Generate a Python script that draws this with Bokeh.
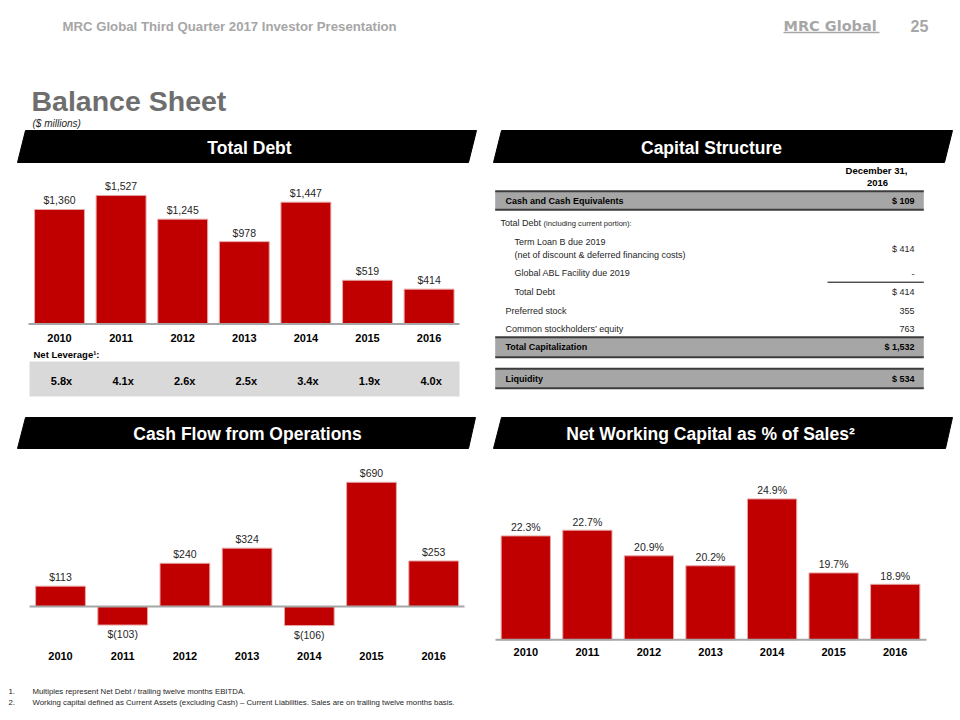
from bokeh.plotting import figure
from bokeh.models import Range1d
from bokeh.core.properties import value
from bokeh.embed import file_html
from bokeh.resources import INLINE

# ---------------- data ----------------
years = [2010, 2011, 2012, 2013, 2014, 2015, 2016]
year_labels = [str(y) for y in years]
total_debt = [1360, 1527, 1245, 978, 1447, 519, 414]
net_leverage = [5.8, 4.1, 2.6, 2.5, 3.4, 1.9, 4.0]
cash_flow_ops = [113, -103, 240, 324, -106, 690, 253]
nwc_pct_sales = [22.3, 22.7, 20.9, 20.2, 24.9, 19.7, 18.9]

cap_labels = ["Cash and Cash Equivalents", "Total Debt",
              "Term Loan B due 2019", "Global ABL Facility due 2019", "Total Debt",
              "Preferred stock", "Common stockholders\u2019 equity",
              "Total Capitalization", "Liquidity"]
cap_values = ["$ 109", "", "$ 414", "-", "$ 414", "355", "763", "$ 1,532", "$ 534"]

footnotes = ["Multiples represent Net Debt / trailing twelve months EBITDA.",
             "Working capital defined as Current Assets (excluding Cash) \u2013 Current Liabilities. Sales are on trailing twelve months basis."]

# ---------------- style ----------------
SANS = "Liberation Sans"
RED = "#c00000"
DARK = "#262626"

W, H = 960, 720
X0, X1, Y0, Y1 = 0, W, 0, H

p = figure(width=W, height=H, x_range=Range1d(X0, X1), y_range=Range1d(Y1, Y0),
           output_backend="svg", toolbar_location=None, min_border=0,
           x_axis_location=None, y_axis_location=None)
p.grid.visible = False
p.outline_line_color = None
p.background_fill_color = "white"
p.border_fill_color = "white"


def txt(x, y, s, size, color=DARK, style="normal", align="left", font=SANS,
        xr="default", yr="default", x_off=0, y_off=0, baseline="middle"):
    if not isinstance(x, list):
        x, y, s = [x], [y], [s]
    p.text(x=x, y=y, text=s, text_font=value(font), text_font_size=f"{size}px",
           text_font_style=style, text_color=color, text_align=align,
           text_baseline=baseline, x_offset=x_off, y_offset=y_off,
           x_range_name=xr, y_range_name=yr)


def chart_ranges(name, c0, step, base, ppu, v0=0.0):
    # c0: page x of first year's centre, step: px per year,
    # base: page y of value v0, ppu: px per value unit
    p.extra_x_ranges[name + "_x"] = Range1d(years[0] + (X0 - c0) / step,
                                            years[0] + (X1 - c0) / step)
    p.extra_y_ranges[name + "_y"] = Range1d(v0 + (base - Y1) / ppu,
                                            v0 + (base - Y0) / ppu)


# ---------------- header ----------------
txt(62, 26, "MRC Global Third Quarter 2017 Investor Presentation", 13.2,
    color="#a6a6a6", style="bold")
txt(783, 25, "MRC Global", 14.5, color="#a6a6a6", style="bold", font="DejaVu Sans")
p.segment(x0=[783], y0=[32], x1=[879], y1=[32], line_color="#a6a6a6", line_width=1.5)
txt(910, 25, "25", 16, color="#a6a6a6", style="bold")
txt(31, 100, "Balance Sheet", 28.5, color="#6e6e6e", style="bold")
txt(32, 123, "($ millions)", 10, color=DARK, style="italic")

# ---------------- banners ----------------
p.patches(xs=[[25, 476, 468, 17], [501, 952, 944, 493],
              [25, 475, 468, 17], [501, 952, 945, 493]],
          ys=[[130, 130, 162, 162], [130, 130, 162, 162],
              [417, 417, 448, 448], [417, 417, 448, 448]],
          fill_color="black", line_color="black")
BANNER = 17.5
txt(249, 147, "Total Debt", BANNER, color="white", style="bold", align="center")
txt(711, 147, "Capital Structure", BANNER, color="white", style="bold", align="center")
txt(247, 433, "Cash Flow from Operations", BANNER, color="white", style="bold",
    align="center")
txt(710, 433, "Net Working Capital as % of Sales\u00b2", BANNER, color="white",
    style="bold", align="center")

bar_kw = dict(fill_color=RED, line_color="#e7a6a6", line_width=1)
LBL = 10.5
YR = 11

# ---------------- Total Debt ----------------
chart_ranges("debt", c0=59.0, step=61.6, base=323.5, ppu=0.0842)
p.vbar(x=years, top=total_debt, bottom=0, width=0.81, x_range_name="debt_x",
       y_range_name="debt_y", **bar_kw)
p.segment(x0=[28], y0=[0], x1=[459], y1=[0], line_color="#a6a6a6", line_width=2,
          y_range_name="debt_y")
txt(years, total_debt, [f"${v:,}" for v in total_debt], LBL, align="center",
    xr="debt_x", yr="debt_y", y_off=-9)
txt(years, [0] * 7, year_labels, YR, color="black", style="bold", align="center",
    xr="debt_x", yr="debt_y", y_off=13.5)
txt(33, 354, "Net Leverage\u00b9:", 9.5, color="black", style="bold")
p.quad(left=[29], right=[459], top=[361], bottom=[396], fill_color="#d9d9d9",
       line_color=None)
txt(years, [380.5] * 7, [f"{v:.1f}x" for v in net_leverage], YR, color="black",
    style="bold", align="center", xr="debt_x", x_off=2)

# ---------------- Capital Structure table ----------------
TL, TR, VR = 494.7, 923.3, 914
TF = 9
txt(876, 170, "December 31,", 9.5, color="black", style="bold", align="center")
txt(877, 182.5, "2016", 9.5, color="black", style="bold", align="center")
for top, bot in [(190.7, 209.3), (336.7, 356.7), (368.3, 387.7)]:
    p.quad(left=[TL], right=[TR], top=[top], bottom=[bot], fill_color="#a6a6a6",
           line_color=None)
    p.segment(x0=[TL, TL], y0=[top, bot], x1=[TR, TR], y1=[top, bot],
              line_color="#3c3c3c", line_width=2)
p.segment(x0=[827], y0=[281.7], x1=[TR], y1=[281.7], line_color="black", line_width=1)

row_x = [505, 500, 514, 514, 514, 505, 505, 505, 505]
row_y = [200.7, 222.3, 241, 272.7, 291.5, 310, 328.3, 346.7, 378.3]
val_y = [200.7, 222.3, 248.3, 273.3, 291.5, 310, 328.3, 346.7, 378.3]
bold_rows = {0, 7, 8}
for i, (lab, val) in enumerate(zip(cap_labels, cap_values)):
    st = "bold" if i in bold_rows else "normal"
    col = "black" if i in bold_rows else DARK
    txt(row_x[i], row_y[i], lab, TF, color=col, style=st)
    if val:
        txt(VR, val_y[i], val, TF, color=col, style=st, align="right")
txt(543, 222.8, "(including current portion):", 7.6, color=DARK)
txt(514, 254.5, "(net of discount & deferred financing costs)", TF, color=DARK)

# ---------------- Cash Flow from Operations ----------------
chart_ranges("cfo", c0=60.0, step=62.2, base=606.0, ppu=0.18)
p.vbar(x=years, top=cash_flow_ops, bottom=0, width=0.80, x_range_name="cfo_x",
       y_range_name="cfo_y", **bar_kw)
p.segment(x0=[29], y0=[0], x1=[464], y1=[0], line_color="#a6a6a6", line_width=2,
          y_range_name="cfo_y")
cfo_lab = [f"${v:,}" if v >= 0 else f"$({-v:,})" for v in cash_flow_ops]
txt(years, cash_flow_ops, cfo_lab, LBL, align="center", xr="cfo_x", yr="cfo_y",
    y_off=[-9 if v >= 0 else 9 for v in cash_flow_ops])
txt(years, [0] * 7, year_labels, YR, color="black", style="bold", align="center",
    xr="cfo_x", yr="cfo_y", y_off=49)

# ---------------- Net Working Capital % of Sales ----------------
NWC_MIN = 15.0
chart_ranges("nwc", c0=525.3, step=61.57, base=639.3, ppu=14.23, v0=NWC_MIN)
p.vbar(x=years, top=nwc_pct_sales, bottom=NWC_MIN, width=0.80, x_range_name="nwc_x",
       y_range_name="nwc_y", **bar_kw)
p.segment(x0=[495], y0=[NWC_MIN], x1=[926], y1=[NWC_MIN], line_color="#a6a6a6",
          line_width=2, y_range_name="nwc_y")
txt(years, nwc_pct_sales, [f"{v:.1f}%" for v in nwc_pct_sales], LBL, align="center",
    xr="nwc_x", yr="nwc_y", y_off=-8.5)
txt(years, [NWC_MIN] * 7, year_labels, YR, color="black", style="bold", align="center",
    xr="nwc_x", yr="nwc_y", y_off=12.5)

# ---------------- footnotes ----------------
txt([8, 8], [690.5, 701.5], ["1.", "2."], 7.8, color=DARK)
txt([32, 32], [690.5, 701.5], footnotes, 7.8, color=DARK)

open("out.html", "w").write(file_html(p, INLINE))
